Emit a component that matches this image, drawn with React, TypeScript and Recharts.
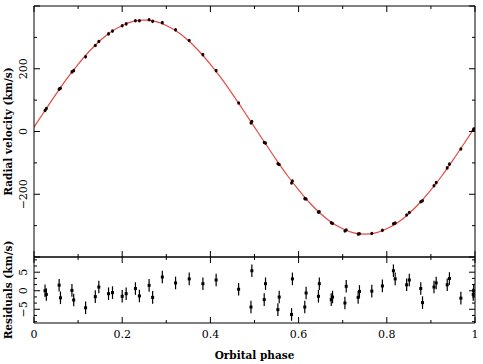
import React from 'react';
import { ComposedChart, Line, Scatter, XAxis, YAxis, ErrorBar, Label } from 'recharts';

// ---- model curve ----
const MODEL_PHASE = [0, 0.025, 0.05, 0.075, 0.1, 0.125, 0.15, 0.175, 0.2, 0.225, 0.25, 0.275, 0.3, 0.325, 0.35, 0.375, 0.4, 0.425, 0.45, 0.475, 0.5, 0.525, 0.55, 0.575, 0.6, 0.625, 0.65, 0.675, 0.7, 0.725, 0.75, 0.775, 0.8, 0.825, 0.85, 0.875, 0.9, 0.925, 0.95, 0.975, 1];
const MODEL_VEL = [14, 67, 119, 169, 214, 255, 290, 318, 338, 351, 355, 351, 338, 318, 290, 255, 214, 169, 119, 67, 14, -39, -91, -141, -186, -227, -262, -290, -310, -323, -327, -323, -310, -290, -262, -227, -186, -141, -91, -39, 14];

// ---- observations ----
const OBS_PHASE = [0.025, 0.028, 0.057, 0.06, 0.086, 0.09, 0.117, 0.139, 0.147, 0.169, 0.178, 0.2, 0.209, 0.23, 0.239, 0.261, 0.269, 0.291, 0.321, 0.352, 0.383, 0.413, 0.464, 0.494, 0.492, 0.522, 0.525, 0.553, 0.556, 0.584, 0.586, 0.614, 0.617, 0.645, 0.647, 0.674, 0.677, 0.705, 0.708, 0.735, 0.738, 0.766, 0.79, 0.815, 0.819, 0.845, 0.851, 0.877, 0.881, 0.907, 0.912, 0.937, 0.942, 0.968, 0.997, 0.996];
const OBS_VEL = [67, 73, 135, 138, 190, 194, 238, 274, 287, 311, 320, 337, 343, 353, 353, 356, 351, 347, 324, 290, 245, 194, 91, 32, 27, -35, -37, -103, -105, -164, -158, -214, -215, -257, -256, -291, -293, -317, -314, -327, -326, -325, -315, -294, -292, -266, -258, -224, -221, -173, -163, -116, -104, -56, 8, 4];
const OBS_RESID = [0.0, -1.0, 1.5, -1.9, 0.1, -2.5, -4.6, -1.6, 1.0, -0.8, -0.5, -1.5, -0.8, 0.6, -1.4, 1.45, -1.8, 3.7, 2.1, 3.2, 1.9, 2.9, 0.4, 5.4, -4.4, -2.4, 1.9, -5.1, -1.7, -6.4, 3.2, -4.4, -0.6, -1.5, 1.9, -2.4, -1.7, -3.3, 1.2, -1.8, -0.2, -0.1, 1.3, 5.4, 3.2, 1.6, 2.9, 0.6, -3.2, 1.0, 2.1, 1.6, 3.3, -2.0, 0.0, -1.0];
const RESID_ERR = 1.7;

// ---- ticks ----
const PH_TICKS = [0, 0.1, 0.2, 0.3, 0.4, 0.5, 0.6, 0.7, 0.8, 0.9, 1];
const PH_MAJOR = [0, 0.2, 0.4, 0.6, 0.8, 1];
const PH_LABELS = ['0', '0.2', '0.4', '0.6', '0.8', '1'];
const RV_TICKS = [-400, -300, -200, -100, 0, 100, 200, 300, 400];
const RV_MAJOR = [-400, -200, 0, 200, 400];
const RV_LABELED = [-200, 0, 200];
const RES_TICKS = [-8.33, -6.67, -5, -3.33, -1.67, 0, 1.67, 3.33, 5, 6.67, 8.33];
const RES_MAJOR = [-5, 0, 5];
const RES_LABELED = [-5, 0, 5];

const modelRows = MODEL_PHASE.map((p, i) => ({ phase: p, vel: MODEL_VEL[i] }));
const obsRows = OBS_PHASE.map((p, i) => ({ phase: p, vel: OBS_VEL[i] }));
const residRows = OBS_PHASE.map((p, i) => ({ phase: p, res: OBS_RESID[i], err: RESID_ERR }));

const FONT = "'DejaVu Serif', serif";
const INK = '#000';

const has = (arr: number[], v: number) => arr.some((m) => Math.abs(m - v) < 1e-6);
const numFmt = (v: number) => (v < 0 ? '\u2212' + Math.abs(v) : String(v));

function makeTick(side: string, major: number[], labeled: number[] | null, fmt?: (v: number) => string) {
  return (props: any) => {
    const { x, y, payload } = props;
    const v = payload.value;
    const len = has(major, v) ? 6 : 3;
    let line: any = null;
    if (side === 'bottom') line = <line x1={x} y1={y} x2={x} y2={y - len} stroke={INK} strokeWidth={1} />;
    if (side === 'top') line = <line x1={x} y1={y} x2={x} y2={y + len} stroke={INK} strokeWidth={1} />;
    if (side === 'left') line = <line x1={x} y1={y} x2={x + len} y2={y} stroke={INK} strokeWidth={1} />;
    if (side === 'right') line = <line x1={x} y1={y} x2={x - len} y2={y} stroke={INK} strokeWidth={1} />;
    let label: any = null;
    if (labeled && has(labeled, v) && fmt) {
      if (side === 'bottom') {
        label = (
          <text x={x} y={y + 15} textAnchor="middle" fontFamily={FONT} fontSize={11} fill={INK}>
            {fmt(v)}
          </text>
        );
      } else if (side === 'left') {
        const lx = x - 7;
        label = (
          <text x={lx} y={y} transform={`rotate(-90 ${lx} ${y})`} textAnchor="middle" fontFamily={FONT} fontSize={11} fill={INK}>
            {fmt(v)}
          </text>
        );
      }
    }
    return (
      <g>
        {line}
        {label}
      </g>
    );
  };
}

const phaseFmt = (v: number) => {
  const i = PH_MAJOR.findIndex((m) => Math.abs(m - v) < 1e-6);
  return i >= 0 ? PH_LABELS[i] : '';
};

function yTitle(text: string) {
  return (props: any) => {
    const vb = props.viewBox || { x: 0, y: 0, width: 0, height: 0 };
    const cy = vb.y + vb.height / 2;
    const lx = 12;
    return (
      <text x={lx} y={cy} transform={`rotate(-90 ${lx} ${cy})`} textAnchor="middle" fontFamily={FONT} fontSize={10.5} fontWeight="bold" fill={INK}>
        {text}
      </text>
    );
  };
}

function xTitle(text: string) {
  return (props: any) => {
    const vb = props.viewBox || { x: 0, y: 0, width: 0, height: 0 };
    const cx = vb.x + vb.width / 2;
    const by = vb.y + vb.height - 5;
    return (
      <text x={cx} y={by} textAnchor="middle" fontFamily={FONT} fontSize={10.5} fontWeight="bold" fill={INK}>
        {text}
      </text>
    );
  };
}

const axisLine = { stroke: INK, strokeWidth: 1 };

export default function App() {
  return (
    <div style={{ position: 'absolute', left: 0, top: 0, width: 483, height: 364, background: '#fff' }}>
      <div style={{ position: 'absolute', left: 0, top: 0 }}>
        <ComposedChart width={483} height={364} margin={{ top: 5, right: 7, bottom: 106, left: 0 }}>
          <XAxis xAxisId="b" type="number" dataKey="phase" domain={[0, 1]} ticks={PH_TICKS} interval={0} height={1} tickSize={0} tickMargin={0} tickLine={false} axisLine={axisLine} tick={makeTick('bottom', PH_MAJOR, null)} allowDataOverflow />
          <XAxis xAxisId="t" orientation="top" type="number" dataKey="phase" domain={[0, 1]} ticks={PH_TICKS} interval={0} height={1} tickSize={0} tickMargin={0} tickLine={false} axisLine={axisLine} tick={makeTick('top', PH_MAJOR, null)} allowDataOverflow />
          <YAxis yAxisId="l" type="number" domain={[-400, 400]} ticks={RV_TICKS} interval={0} width={34} tickSize={0} tickMargin={0} tickLine={false} axisLine={axisLine} tick={makeTick('left', RV_MAJOR, RV_LABELED, numFmt)} allowDataOverflow>
            <Label content={yTitle('Radial velocity (km/s)')} />
          </YAxis>
          <YAxis yAxisId="r" orientation="right" type="number" domain={[-400, 400]} ticks={RV_TICKS} interval={0} width={1} tickSize={0} tickMargin={0} tickLine={false} axisLine={axisLine} tick={makeTick('right', RV_MAJOR, null)} allowDataOverflow />
          <Line xAxisId="b" yAxisId="l" data={modelRows} dataKey="vel" type="monotone" stroke="#e24a44" strokeWidth={1.2} dot={false} isAnimationActive={false} />
          <Scatter xAxisId="b" yAxisId="l" data={obsRows} dataKey="vel" fill="#1a0000" isAnimationActive={false} shape={(p: any) => <ellipse cx={p.cx} cy={p.cy} rx={1.5} ry={1.8} fill="#1a0000" />} />
        </ComposedChart>
      </div>
      <div style={{ position: 'absolute', left: 0, top: 0 }}>
        <ComposedChart width={483} height={364} margin={{ top: 256, right: 7, bottom: 0, left: 0 }}>
          <XAxis xAxisId="b" type="number" dataKey="phase" domain={[0, 1]} ticks={PH_TICKS} interval={0} height={41} tickSize={0} tickMargin={0} tickLine={false} axisLine={axisLine} tick={makeTick('bottom', PH_MAJOR, PH_MAJOR, phaseFmt)} allowDataOverflow>
            <Label content={xTitle('Orbital phase')} />
          </XAxis>
          <XAxis xAxisId="t" orientation="top" type="number" dataKey="phase" domain={[0, 1]} ticks={PH_TICKS} interval={0} height={1} tickSize={0} tickMargin={0} tickLine={false} axisLine={axisLine} tick={makeTick('top', PH_MAJOR, null)} allowDataOverflow />
          <YAxis yAxisId="l" type="number" domain={[-8.7, 9.1]} ticks={RES_TICKS} interval={0} width={34} tickSize={0} tickMargin={0} tickLine={false} axisLine={axisLine} tick={makeTick('left', RES_MAJOR, RES_LABELED, numFmt)} allowDataOverflow>
            <Label content={yTitle('Residuals (km/s)')} />
          </YAxis>
          <YAxis yAxisId="r" orientation="right" type="number" domain={[-8.7, 9.1]} ticks={RES_TICKS} interval={0} width={1} tickSize={0} tickMargin={0} tickLine={false} axisLine={axisLine} tick={makeTick('right', RES_MAJOR, null)} allowDataOverflow />
          <Scatter xAxisId="b" yAxisId="l" data={residRows} dataKey="res" fill="#000" isAnimationActive={false} shape={(p: any) => <rect x={p.cx - 1.5} y={p.cy - 1.5} width={3} height={3} fill="#000" />}>
            <ErrorBar dataKey="err" direction="y" width={0} stroke="#000" strokeWidth={1.2} />
          </Scatter>
        </ComposedChart>
      </div>
    </div>
  );
}
